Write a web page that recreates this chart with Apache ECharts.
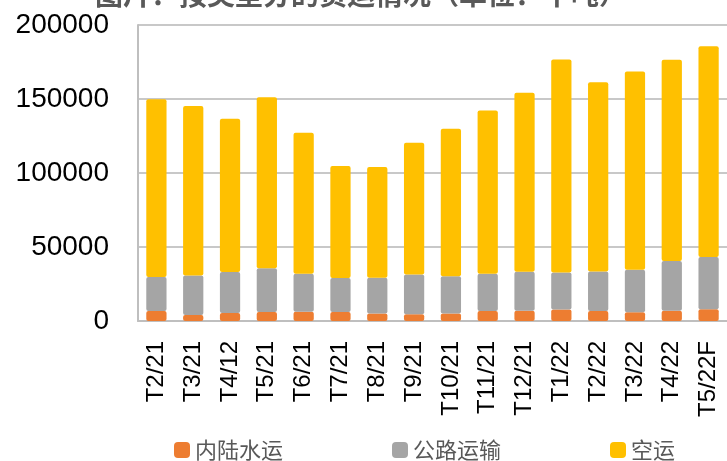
<!DOCTYPE html>
<html>
<head>
<meta charset="utf-8">
<script src="https://cdn.jsdelivr.net/npm/echarts@6/dist/echarts.min.js"></script>
<style>
  html, body { margin: 0; padding: 0; background: #fff; }
  #chart { width: 727px; height: 461px; }
</style>
</head>
<body>
<div id="chart"></div>
<script>
// 月份
var categories = ['T2/21', 'T3/21', 'T4/12', 'T5/21', 'T6/21', 'T7/21', 'T8/21', 'T9/21',
  'T10/21', 'T11/21', 'T12/21', 'T1/22', 'T2/22', 'T3/22', 'T4/22', 'T5/22F'];
// 千吨
var inlandWater = [6800, 4000, 5400, 6100, 6300, 6100, 5000, 4500, 5000, 6800, 7000, 7700, 6800, 5900, 7000, 8000];
var roadTransport = [23000, 26800, 27700, 29500, 25700, 22900, 24300, 27000, 25200, 25200, 26300, 25000, 26700, 28800, 33500, 35200];
var airTransport = [120000, 114400, 103600, 115600, 95200, 75700, 74700, 89000, 99700, 110300, 120900, 144000, 127900, 133900, 136000, 142500];
var yTicks = [0, 50000, 100000, 150000, 200000];

var seriesNames = ['内陆水运', '公路运输', '空运'];
var seriesColors = ['#ED7D31', '#A5A5A5', '#FFC000'];

var chart = echarts.init(document.getElementById('chart'));

function makeBar(i, data) {
  return {
    name: seriesNames[i],
    type: 'bar',
    stack: 'total',
    barWidth: '55%',
    data: data,
    itemStyle: { color: seriesColors[i], borderRadius: 2 }
  };
}

var option = {
  animation: false,
  title: {
    text: '图片：按类型分的货运情况（单位：千吨）',
    left: 90,
    top: -25,
    textStyle: {
      fontFamily: 'Noto Sans CJK SC',
      fontSize: 28,
      fontWeight: 'bold',
      color: '#595959'
    }
  },
  legend: {
    data: seriesNames,
    left: 169,
    top: 434,
    itemGap: 109,
    itemWidth: 16,
    itemHeight: 16,
    icon: 'roundRect',
    textStyle: {
      fontFamily: 'Noto Sans CJK SC',
      fontSize: 22,
      color: '#595959'
    }
  },
  grid: {
    left: 138,
    right: 0,
    top: 25,
    bottom: 140
  },
  xAxis: {
    type: 'category',
    data: categories,
    axisLine: { lineStyle: { color: '#BFBFBF', width: 2 } },
    axisTick: { show: false },
    axisLabel: {
      rotate: 90,
      margin: 20,
      interval: 0,
      color: '#000',
      fontFamily: 'Liberation Sans',
      fontSize: 24
    }
  },
  yAxis: {
    type: 'value',
    min: yTicks[0],
    max: yTicks[yTicks.length - 1],
    interval: 50000,
    axisLine: { show: true, lineStyle: { color: '#BFBFBF', width: 2 } },
    axisTick: { show: false },
    splitLine: { lineStyle: { color: '#C8C8C8', width: 2 } },
    axisLabel: {
      margin: 29,
      color: '#000',
      fontFamily: 'Liberation Sans',
      fontSize: 28,
      formatter: function (v) { return String(v); }
    }
  },
  series: [
    makeBar(0, inlandWater),
    makeBar(1, roadTransport),
    makeBar(2, airTransport)
  ]
};

chart.setOption(option);
</script>
</body>
</html>
